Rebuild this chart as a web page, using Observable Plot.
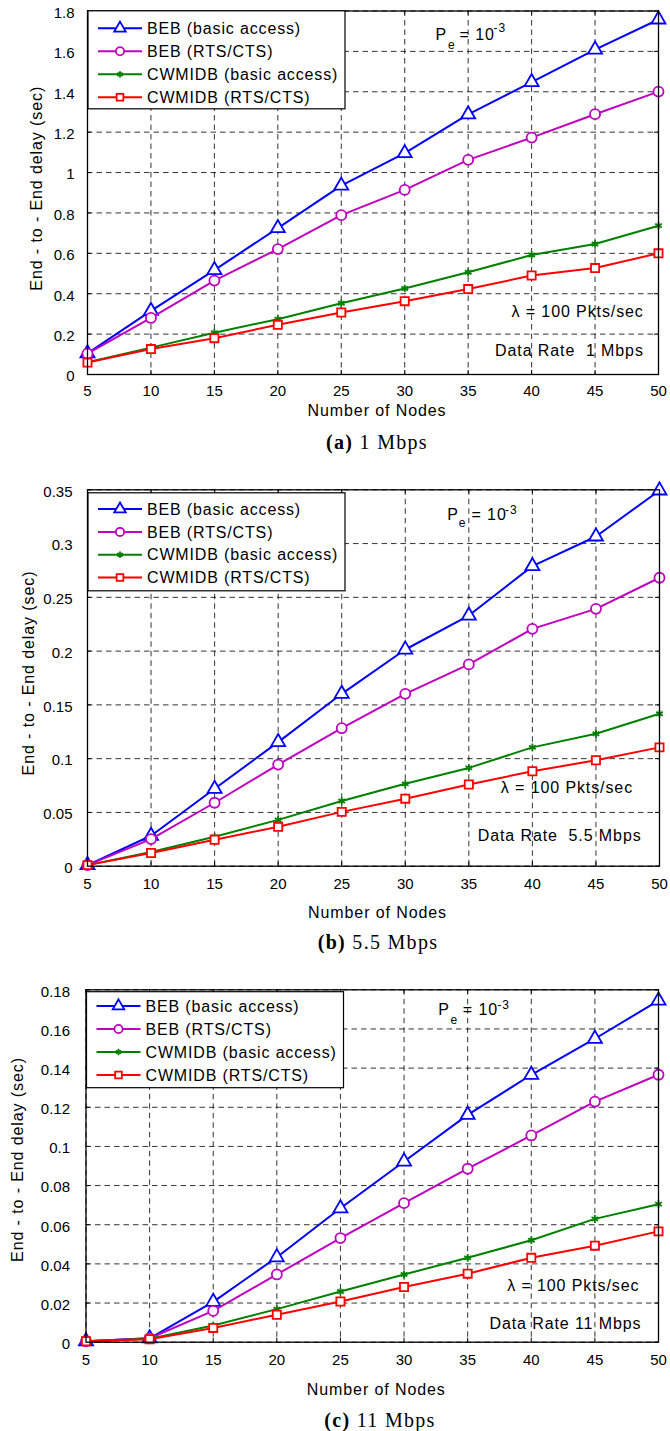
<!DOCTYPE html>
<html><head><meta charset="utf-8">
<script src="https://cdn.jsdelivr.net/npm/d3@7"></script>
<script src="https://cdn.jsdelivr.net/npm/@observablehq/plot@0.6"></script>
<style>
html,body{margin:0;padding:0;background:#fff;overflow:hidden}
#root{position:relative;width:670px;height:1431px}
.panel{position:absolute;left:0}
.cap{position:absolute;width:670px;text-align:center;font-family:"Liberation Serif","Times New Roman",serif;font-size:20px;line-height:20px;letter-spacing:1.3px;color:#000;white-space:pre}
</style></head><body><div id="root"></div>
<script>
// ---- shared ----
const nodes = [5,10,15,20,25,30,35,40,45,50];
const seriesNames = ["BEB (basic access)","BEB (RTS/CTS)","CWMIDB (basic access)","CWMIDB (RTS/CTS)"];
const seriesColors = ["#0000ff","#bf00bf","#008000","#ff0000"];
const seriesSymbols = ["triangle","circle","asterisk","square"];
const xLabel = "Number of Nodes";
const yLabel = "End - to - End delay (sec)";

// ---- (a) 1 Mbps ----
const yTicks1 = [0,0.2,0.4,0.6,0.8,1,1.2,1.4,1.6,1.8];
const bebBasic1 = [0.105,0.315,0.517,0.725,0.935,1.096,1.288,1.448,1.609,1.758];
const bebRts1   = [0.103,0.280,0.465,0.621,0.789,0.914,1.063,1.173,1.289,1.401];
const cwBasic1  = [0.061,0.133,0.207,0.274,0.353,0.426,0.506,0.592,0.646,0.737];
const cwRts1    = [0.059,0.126,0.180,0.246,0.307,0.363,0.423,0.490,0.527,0.600];

// ---- (b) 5.5 Mbps ----
const yTicks2 = [0,0.05,0.1,0.15,0.2,0.25,0.3,0.35];
const bebBasic2 = [0.001,0.0283,0.072,0.1154,0.1603,0.2015,0.2331,0.279,0.3066,0.3494];
const bebRts2   = [0.001,0.0252,0.059,0.0945,0.1283,0.1603,0.1876,0.2207,0.2393,0.2682];
const cwBasic2  = [0.001,0.0132,0.0274,0.0431,0.0606,0.0766,0.0914,0.1105,0.1231,0.1417];
const cwRts2    = [0.001,0.0123,0.0246,0.0366,0.0505,0.0628,0.076,0.0883,0.0985,0.1105];

// ---- (c) 11 Mbps ----
const yTicks3 = [0,0.02,0.04,0.06,0.08,0.1,0.12,0.14,0.16,0.18];
const bebBasic3 = [0.0005,0.002,0.0206,0.0434,0.0684,0.0923,0.1161,0.1366,0.155,0.1745];
const bebRts3   = [0.0005,0.002,0.016,0.0346,0.0532,0.071,0.0886,0.1056,0.1229,0.1366];
const cwBasic3  = [0.0005,0.0018,0.0085,0.0169,0.0259,0.0346,0.0431,0.0521,0.063,0.0705];
const cwRts3    = [0.0005,0.0015,0.0073,0.014,0.0208,0.0282,0.035,0.0431,0.0493,0.0566];

// ---- annotations (data coordinates) ----
const pe1 = [{x:32.43,y:1.657,t:"P",s:16},{x:33.42,y:1.614,t:"e",s:12},{x:34.32,y:1.657,t:"= 10",s:16},{x:37.0,y:1.695,t:"-3",s:12}];
const pe2 = [{x:33.3,y:0.3221,t:"P",s:16},{x:34.21,y:0.3152,t:"e",s:12},{x:35.21,y:0.3221,t:"= 10",s:16},{x:37.85,y:0.3277,t:"-3",s:12}];
const pe3 = [{x:32.68,y:0.1669,t:"P",s:16},{x:33.65,y:0.1626,t:"e",s:12},{x:34.62,y:0.1669,t:"= 10",s:16},{x:37.33,y:0.1703,t:"-3",s:12}];
const notes1 = [{x:48.84,y:0.287,t:"λ = 100 Pkts/sec"},{x:48.84,y:0.0906,t:"Data Rate  1 Mbps"}];
const notes2 = [{x:47.92,y:0.0685,t:"λ = 100 Pkts/sec"},{x:48.59,y:0.0234,t:"Data Rate  5.5 Mbps"}];
const notes3 = [{x:48.5,y:0.0262,t:"λ = 100 Pkts/sec"},{x:48.66,y:0.0069,t:"Data Rate 11 Mbps"}];

const panels = [
  {top:0, height:430, mt:10.5, mb:56, ml:87, mr:12, yDomain:[0,1.8], yTicks:yTicks1,
   series:[bebBasic1,bebRts1,cwBasic1,cwRts1], pe:pe1, notes:notes1,
   xPad:11, yPad:13, xTitleDy:36, yTitleDx:-46, yTitleDy:-4.5,
   capY:442, capX:377, capB:"(a)", capT:" 1 Mbps", leg:{dy:0.3, row0:17.5, step:23, h:98}},
  {top:470, height:460, mt:19.3, mb:64.3, ml:87, mr:11, yDomain:[0,0.35], yTicks:yTicks2,
   series:[bebBasic2,bebRts2,cwBasic2,cwRts2], pe:pe2, notes:notes2,
   xPad:12.3, yPad:15, xTitleDy:47, yTitleDx:-54, yTitleDy:-5,
   capY:941.7, capX:378, capB:"(b)", capT:" 5.5 Mbps", leg:{dy:3.5, row0:16.3, step:22.8, h:98}},
  {top:970, height:440, mt:19.3, mb:68.3, ml:85.5, mr:12, yDomain:[0,0.18], yTicks:yTicks3,
   series:[bebBasic3,bebRts3,cwBasic3,cwRts3], pe:pe3, notes:notes3,
   xPad:12.3, yPad:16, xTitleDy:47.6, yTitleDx:-63, yTitleDy:-6.5,
   capY:1420, capX:380, capB:"(c)", capT:" 11 Mbps", leg:{dy:2.4, row0:14.3, step:23, h:96}}
];

const symMap = {triangle:d3.symbolTriangle, circle:d3.symbolCircle, asterisk:d3.symbolAsterisk, square:d3.symbolSquare};
const symR = {triangle:5.2, circle:5, asterisk:3.6, square:4.6};

const root = document.getElementById("root");
const gridStyle = {stroke:"#000", strokeOpacity:0.8, strokeWidth:1, strokeDasharray:"5.5,4"};

panels.forEach(p => {
  const W = 670;
  const plotH = p.height - p.mt - p.mb;
  const plotW = W - p.ml - p.mr;
  const seriesMarks = [];
  p.series.forEach((vals, i) => {
    const rows = nodes.map((n, j) => ({n, v: vals[j]}));
    const sym = seriesSymbols[i];
    seriesMarks.push(Plot.line(rows, {x:"n", y:"v", stroke:seriesColors[i], strokeWidth:2}));
    seriesMarks.push(Plot.dot(rows, {x:"n", y:"v", symbol:sym, r:symR[sym], stroke:seriesColors[i],
      fill: sym === "asterisk" ? "none" : "white", strokeWidth:1.8}));
  });
  const svg = Plot.plot({
    width: W, height: p.height,
    marginTop: p.mt, marginBottom: p.mb, marginLeft: p.ml, marginRight: p.mr,
    style: {fontFamily:"'Liberation Sans', Arial, sans-serif", fontSize:"15px", color:"#000", background:"transparent"},
    x: {domain:[5,50]},
    y: {domain:p.yDomain},
    marks: [
      Plot.gridX(nodes, gridStyle),
      Plot.gridY(p.yTicks, gridStyle),
      Plot.ruleX(nodes, {x:d=>d, insetTop: plotH - 4, strokeWidth:1}),
      Plot.ruleX(nodes, {x:d=>d, insetBottom: plotH - 4, strokeWidth:1}),
      Plot.ruleY(p.yTicks, {y:d=>d, insetRight: plotW - 4, strokeWidth:1}),
      Plot.ruleY(p.yTicks, {y:d=>d, insetLeft: plotW - 4, strokeWidth:1}),
      Plot.axisX(nodes, {tickSize:0, tickPadding:p.xPad, label:null, tickFormat:d=>String(d)}),
      Plot.axisY(p.yTicks, {tickSize:0, tickPadding:p.yPad, label:null, dy:2, tickFormat:d=>String(d)}),
      ...seriesMarks,
      Plot.text(p.pe, {x:"x", y:"y", text:"t", fontSize:d=>d.s, textAnchor:"start", lineAnchor:"bottom", ariaLabel:"pe"}),
      Plot.text(p.notes, {x:"x", y:"y", text:"t", fontSize:16, textAnchor:"end", lineAnchor:"bottom"}),
      Plot.frame({stroke:"#000", strokeWidth:1.3}),
      Plot.text([xLabel], {text:d=>d, frameAnchor:"bottom", textAnchor:"middle", dy:p.xTitleDy, dx:4, fontSize:16, lineAnchor:"middle"}),
      Plot.text([yLabel], {text:d=>d, frameAnchor:"left", textAnchor:"middle", rotate:-90, dx:p.yTitleDx, dy:p.yTitleDy, fontSize:16, lineAnchor:"bottom"})
    ]
  });
  d3.select(svg).selectAll('g[aria-label="text"] text').attr("letter-spacing","0.9px");
  d3.select(svg).selectAll('g[aria-label="pe"] text').attr("letter-spacing",null);

  // legend box inside the axes
  const L = p.ml + 1, T = p.mt + p.leg.dy;
  const g = d3.select(svg).append("g").attr("class","legend");
  g.append("rect").attr("x",L).attr("y",T).attr("width",257).attr("height",p.leg.h)
    .attr("fill","white").attr("stroke","#000").attr("stroke-width",1.2);
  seriesNames.forEach((name, i) => {
    const cy = T + p.leg.row0 + i*p.leg.step;
    const sym = seriesSymbols[i];
    g.append("line").attr("x1",L+10).attr("x2",L+54).attr("y1",cy).attr("y2",cy)
      .attr("stroke",seriesColors[i]).attr("stroke-width",2);
    const r = symR[sym]*0.82;
    g.append("path").attr("transform",`translate(${L+32},${cy})`)
      .attr("d", d3.symbol(symMap[sym], Math.PI*r*r)())
      .attr("fill", sym==="asterisk" ? "none" : "white")
      .attr("stroke",seriesColors[i]).attr("stroke-width",1.8);
    g.append("text").attr("x",L+59).attr("y",cy).attr("dy","0.36em").attr("text-anchor","start")
      .attr("font-size",16).attr("letter-spacing","0.85px").attr("fill","#000").text(name);
  });

  const wrap = document.createElement("div");
  wrap.className = "panel";
  wrap.style.top = p.top + "px";
  wrap.appendChild(svg);
  root.appendChild(wrap);

  const cap = document.createElement("div");
  cap.className = "cap";
  cap.style.top = (p.capY - 10) + "px";
  cap.style.left = (p.capX - 335) + "px";
  const b = document.createElement("b");
  b.textContent = p.capB;
  cap.appendChild(b);
  cap.appendChild(document.createTextNode(p.capT));
  root.appendChild(cap);
});
</script>
</body></html>
